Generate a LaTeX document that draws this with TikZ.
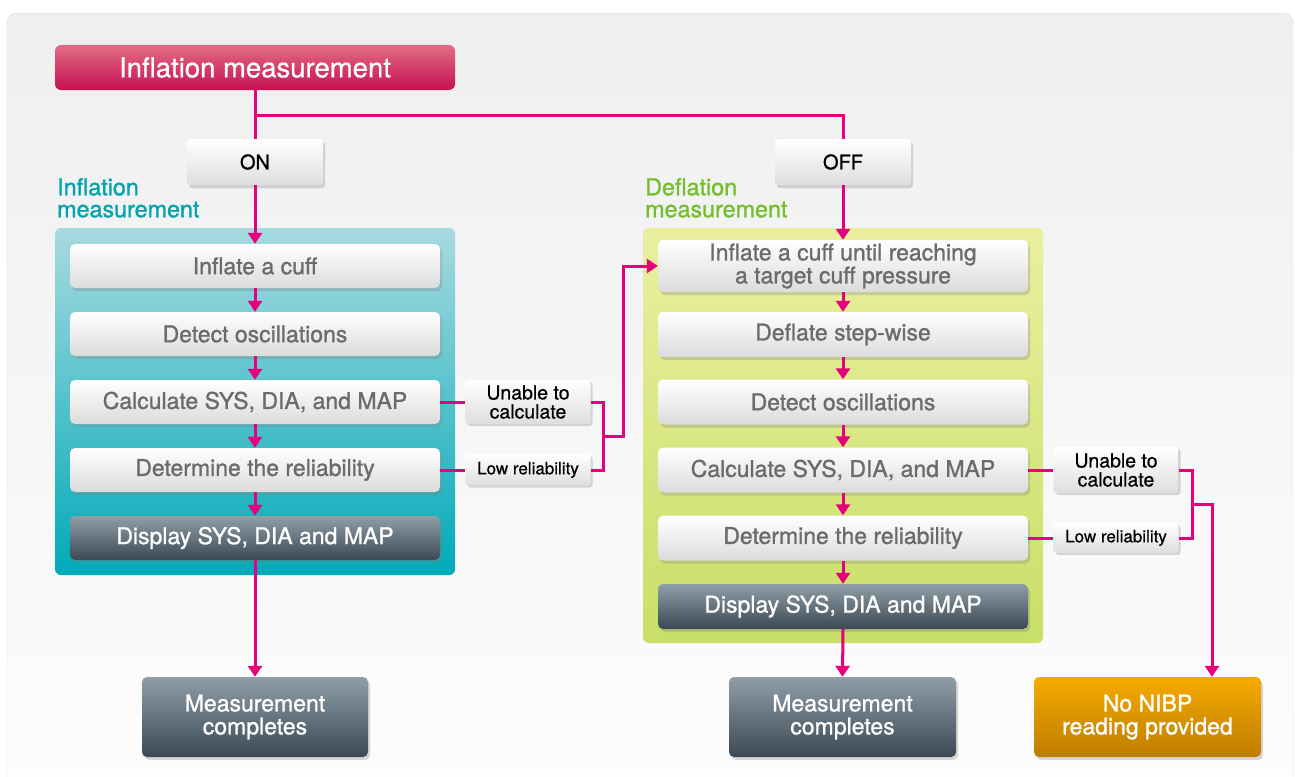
\documentclass[tikz,border=0pt]{standalone}
\usepackage{fontspec}
\setmainfont{TeX Gyre Heros}
\newfontfamily\medfont{TeX Gyre Heros}[FakeBold=1.1]
\newfontfamily\semifont{TeX Gyre Heros}[FakeBold=0.6]
\usetikzlibrary{shadows,arrows.meta,calc}
\definecolor{pinkc}{HTML}{E6007E}
\definecolor{stepgray}{HTML}{6B6B6B}
\definecolor{tealtxt}{HTML}{00A3AE}
\definecolor{greentxt}{HTML}{74BE2C}
\definecolor{darktop}{RGB}{143,158,167}
\definecolor{darkbot}{RGB}{58,73,84}
\tikzset{
  stepbox/.style={rounded corners=5pt, top color=white, bottom color=black!14, minimum width=370pt, inner sep=0pt,
    text=stepgray, font=\medfont\fontsize{23}{23}\selectfont, align=center,
    drop shadow={shadow xshift=2pt, shadow yshift=-3pt, opacity=0.3}},
  darkbox/.style={rounded corners=5pt, top color=darktop, bottom color=darkbot, inner sep=0pt,
    text=white, font=\medfont\fontsize{23}{23}\selectfont, align=center,
    drop shadow={shadow xshift=2pt, shadow yshift=-3pt, opacity=0.3}},
  sidebox/.style={rounded corners=3pt, top color=white, bottom color=black!13, minimum width=125pt, inner sep=0pt,
    text=black, align=center,
    drop shadow={shadow xshift=2pt, shadow yshift=-2pt, opacity=0.3}},
  switchbox/.style={rounded corners=3pt, top color=white, bottom color=black!13, minimum width=136pt, minimum height=46pt, inner sep=0pt,
    text=black, font=\medfont\fontsize{20}{20}\selectfont,
    drop shadow={shadow xshift=2pt, shadow yshift=-3pt, opacity=0.3}},
  conn/.style={draw=pinkc, line width=3pt},
  arr/.style={conn, -{Triangle[length=11pt,width=14pt]}},
  grouplabel/.style={anchor=north west, inner sep=0pt, align=left, font=\medfont\fontsize{23.3}{22}\selectfont}
}
\begin{document}
\begin{tikzpicture}[x=1pt,y=-1pt]
\useasboundingbox (0,0) rectangle (1295,776);
% background panel
\fill[white] (0,0) rectangle (1295,776);
\shade[rounded corners=10pt, top color={rgb,255:red,239;green,239;blue,239}, bottom color={rgb,255:red,253;green,253;blue,253}] (7,13) rectangle (1293,800);
\draw[black!15, rounded corners=10pt] (7,800) -- (7,13) -- (1293,13) -- (1293,800);

% group panels
\shade[rounded corners=6pt, top color={rgb,255:red,168;green,218;blue,224}, bottom color={rgb,255:red,0;green,170;blue,184}] (55,228) rectangle (455,575);
\shade[rounded corners=6pt, top color={rgb,255:red,234;green,239;blue,158}, bottom color={rgb,255:red,200;green,223;blue,104}] (643,228) rectangle (1043,643);

% title
\node[rounded corners=6pt, top color={rgb,255:red,226;green,108;blue,132}, bottom color={rgb,255:red,200;green,16;blue,82}, minimum width=400pt, minimum height=45pt, inner sep=0pt, text=white, font=\semifont\fontsize{27.5}{27}\selectfont] (title) at (255,67.5) {Inflation measurement};

\node[switchbox] (on) at (255,162) {ON};
\node[switchbox] (off) at (843,162) {OFF};

\node[grouplabel, text=tealtxt] (lab1) at (57,178) {Inflation\\measurement};
\node[grouplabel, text=greentxt] (lab2) at (645,178) {Deflation\\measurement};

% left column
\node[stepbox, minimum height=44pt] (l1) at (255,266) {Inflate a cuff};
\node[stepbox, minimum height=44pt] (l2) at (255,334) {Detect oscillations};
\node[stepbox, minimum height=44pt] (l3) at (255,402) {Calculate SYS, DIA, and MAP};
\node[stepbox, minimum height=44pt] (l4) at (255,470) {Determine the reliability};
\node[darkbox, minimum width=370pt, minimum height=44pt] (l5) at (255,538) {Display SYS, DIA and MAP};
\node[darkbox, minimum width=226pt, minimum height=80pt] (mcl) at (255,717) {Measurement\\completes};

\node[sidebox, minimum height=44pt, font=\semifont\fontsize{19.5}{19}\selectfont] (ul) at (528,402) {Unable to\\calculate};
\node[sidebox, minimum height=31pt, font=\semifont\fontsize{17}{17}\selectfont] (lr) at (528,470) {Low reliability};

% right column
\node[stepbox, minimum height=52pt] (r1) at (843,266) {Inflate a cuff until reaching\\a target cuff pressure};
\node[stepbox, minimum height=45pt] (r2) at (843,334.5) {Deflate step-wise};
\node[stepbox, minimum height=45pt] (r3) at (843,402) {Detect oscillations};
\node[stepbox, minimum height=45pt] (r4) at (843,470) {Calculate SYS, DIA, and MAP};
\node[stepbox, minimum height=45pt] (r5) at (843,538) {Determine the reliability};
\node[darkbox, minimum width=370pt, minimum height=45pt] (r6) at (843,606.5) {Display SYS, DIA and MAP};
\node[darkbox, minimum width=227pt, minimum height=80pt] (mcr) at (842.5,717) {Measurement\\completes};

\node[sidebox, minimum height=46pt, font=\semifont\fontsize{19.5}{19}\selectfont] (ur) at (1116,470) {Unable to\\calculate};
\node[sidebox, minimum height=30pt, font=\semifont\fontsize{17}{17}\selectfont] (lr2) at (1116,538) {Low reliability};

\node[rounded corners=5pt, top color={rgb,255:red,246;green,170;blue,0}, bottom color={rgb,255:red,190;green,125;blue,0}, minimum width=227pt, minimum height=80pt, inner sep=0pt, text=white, font=\medfont\fontsize{23}{23}\selectfont, align=center, drop shadow={shadow xshift=2pt, shadow yshift=-3pt, opacity=0.3}] (nibp) at (1147.5,717) {No NIBP\\reading provided};

% connectors
\coordinate (j1) at (255,115);
\draw[conn] (title.south) -- (on.north);
\draw[conn] (j1) -| (off.north);
\draw[arr] (on.south) -- (l1.north);
\draw[arr] (l1.south) -- (l2.north);
\draw[arr] (l2.south) -- (l3.north);
\draw[arr] (l3.south) -- (l4.north);
\draw[arr] (l4.south) -- (l5.north);
\draw[arr] (l5.south) -- (mcl.north);

\draw[arr] (off.south) -- (r1.north);
\draw[arr] (r1.south) -- (r2.north);
\draw[arr] (r2.south) -- (r3.north);
\draw[arr] (r3.south) -- (r4.north);
\draw[arr] (r4.south) -- (r5.north);
\draw[arr] (r5.south) -- (r6.north);
\draw[arr] (r6.south) -- (mcr.north);

\draw[conn] (l3.east) -- (ul.west);
\draw[conn] (l4.east) -- (lr.west);
\coordinate (c1) at (603,436);
\coordinate (c2) at (623,436);
\draw[conn] (ul.east) -| (c1) |- (lr.east);
\draw[arr] (c1) -- (c2) |- (r1.west);

\draw[conn] (r4.east) -- (ur.west);
\draw[conn] (r5.east) -- (lr2.west);
\coordinate (c3) at (1192,504);
\coordinate (c4) at (1212,504);
\draw[conn] (ur.east) -| (c3) |- (lr2.east);
\draw[arr] (c3) -- (c4) -- (c4 |- nibp.north);
\end{tikzpicture}
\end{document}
